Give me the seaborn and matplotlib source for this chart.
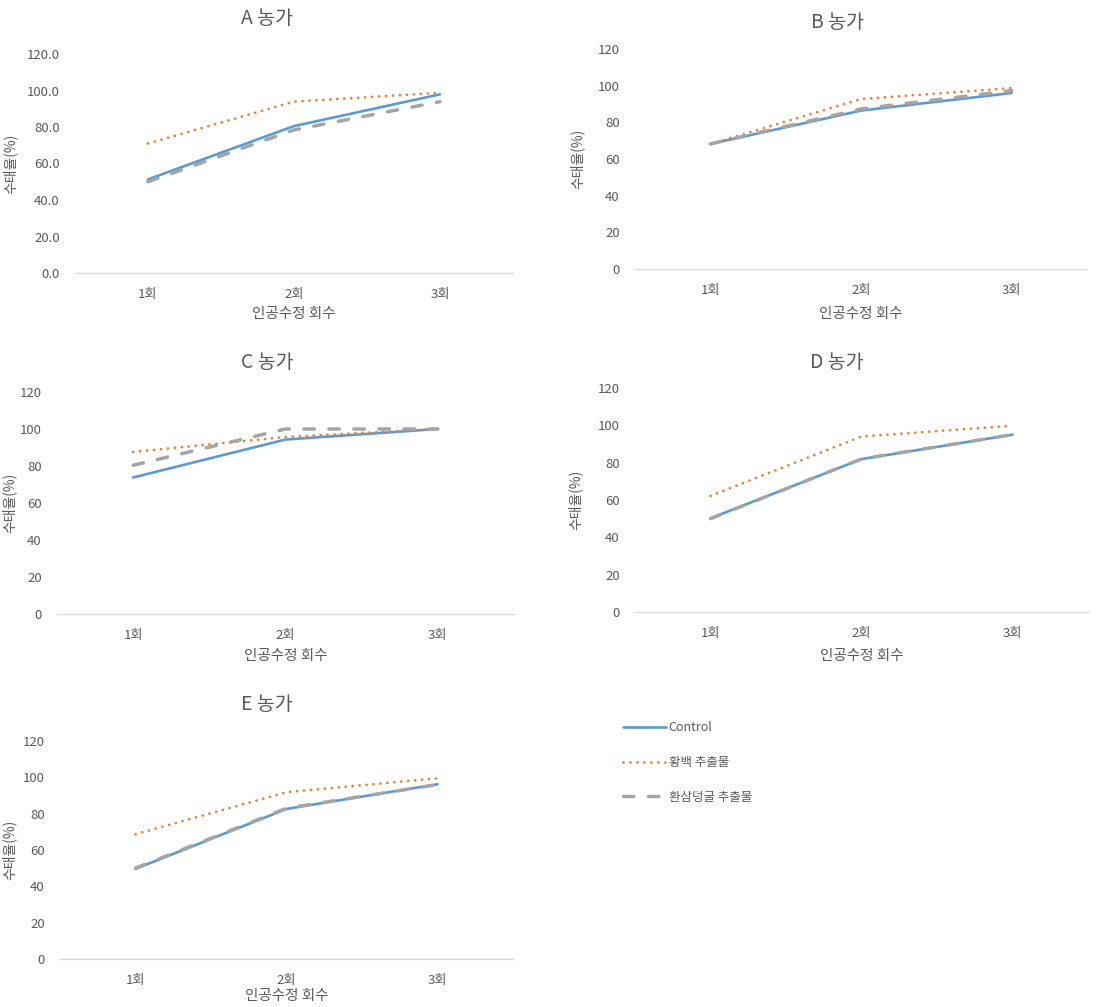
import matplotlib
matplotlib.use("Agg")
import matplotlib.pyplot as plt
import seaborn as sns
import pandas as pd

sns.set_theme(style="white")
plt.rcParams['font.family'] = ['Noto Sans CJK KR', 'DejaVu Sans']

# ---- data ----
rounds = ["1회", "2회", "3회"]
series_names = ["Control", "황백 추출물", "환삼덩굴 추출물"]
farms = ["A 농가", "B 농가", "C 농가", "D 농가", "E 농가"]

a_control = [51.3, 80.5, 97.9]
a_hwangbaek = [71.0, 93.9, 98.8]
a_hwansam = [50.0, 78.4, 93.9]

b_control = [68.2, 86.4, 96.0]
b_hwangbaek = [68.2, 92.7, 98.7]
b_hwansam = [68.2, 87.3, 97.3]

c_control = [73.8, 94.3, 100.0]
c_hwangbaek = [87.6, 95.7, 100.0]
c_hwansam = [80.4, 100.0, 100.0]

d_control = [50.2, 81.9, 95.0]
d_hwangbaek = [62.2, 94.0, 99.8]
d_hwansam = [50.0, 82.0, 95.0]

e_control = [49.6, 82.6, 96.2]
e_hwangbaek = [68.7, 91.8, 99.5]
e_hwansam = [50.0, 83.0, 96.0]

panel_values = [
    [a_control, a_hwangbaek, a_hwansam],
    [b_control, b_hwangbaek, b_hwansam],
    [c_control, c_hwangbaek, c_hwansam],
    [d_control, d_hwangbaek, d_hwansam],
    [e_control, e_hwangbaek, e_hwansam],
]
y_ticks = [0, 20, 40, 60, 80, 100, 120]
x_title = "인공수정 회수"
y_title = "수태율(%)"

# ---- styling ----
W, H = 1112, 1007
fig = plt.figure(figsize=(W / 100, H / 100), dpi=100)
TXT = "#595959"
colors = ["#5B9BD5", "#ED7D31", "#A5A5A5"]
styles = [
    dict(linewidth=1.9, linestyle="-", solid_capstyle="round"),
    dict(linewidth=2.0, linestyle=(0, (0.01, 2.5)), dash_capstyle="round"),
    dict(linewidth=2.5, linestyle=(0, (3.0, 4.2)), dash_capstyle="round"),
]

# left, right, top, bottom (pixels); title center (x, y); ylabel x; xlabel top offset
layout = [
    (75, 513, 54, 273, 267, 18, 18, 34),
    (635, 1087, 49, 269, 837, 23, 585, 38),
    (57, 514, 392, 614, 267, 363, 17, 35),
    (635, 1088, 388, 612, 837, 363, 583, 37),
    (60, 513, 741, 959, 267, 705, 17, 30),
]

axes = []
for i, (farm, vals, lay) in enumerate(zip(farms, panel_values, layout)):
    l, r, t, b, tx, ty, ylx, xlo = lay
    ax = fig.add_axes([l / W, 1 - b / H, (r - l) / W, (b - t) / H])
    axes.append(ax)
    for name, v, c, st in zip(series_names, vals, colors, styles):
        df = pd.DataFrame({"회수": rounds, "값": v})
        sns.lineplot(data=df, x="회수", y="값", ax=ax, color=c, label=name,
                     sort=False, legend=False, **st)
    ax.set_xlim(-0.5, 2.5)
    ax.set_ylim(0, 120)
    ax.set_yticks(y_ticks)
    if i == 0:
        ax.set_yticklabels([f"{t:.1f}" for t in y_ticks])
    for sp in ["top", "right", "left"]:
        ax.spines[sp].set_visible(False)
    ax.spines["bottom"].set_color("#D9D9D9")
    ax.spines["bottom"].set_linewidth(1.0)
    ax.tick_params(axis="both", length=0, labelsize=9.5, colors=TXT)
    ax.tick_params(axis="y", pad=11)
    ax.tick_params(axis="x", pad=11)
    ax.set_xlabel(x_title, fontsize=10.5, color=TXT)
    ax.set_ylabel(y_title, fontsize=10, color=TXT)
    ax.xaxis.set_label_coords(0.5, -xlo / (b - t))
    ax.yaxis.set_label_coords((ylx - l) / (r - l), 0.5)
    ax.grid(False)
    fig.text(tx / W, 1 - ty / H, farm, ha="center", va="center",
             fontsize=14, color=TXT)

handles, labels = axes[-1].get_legend_handles_labels()
leg = fig.legend(handles, labels, loc="upper left",
                 bbox_to_anchor=(623 / W, 1 - 721 / H), frameon=False,
                 fontsize=9, handlelength=3.4, handletextpad=0.25,
                 labelspacing=1.75, borderpad=0, borderaxespad=0)
for t in leg.get_texts():
    t.set_color(TXT)

fig.savefig("out.png", dpi=100)
